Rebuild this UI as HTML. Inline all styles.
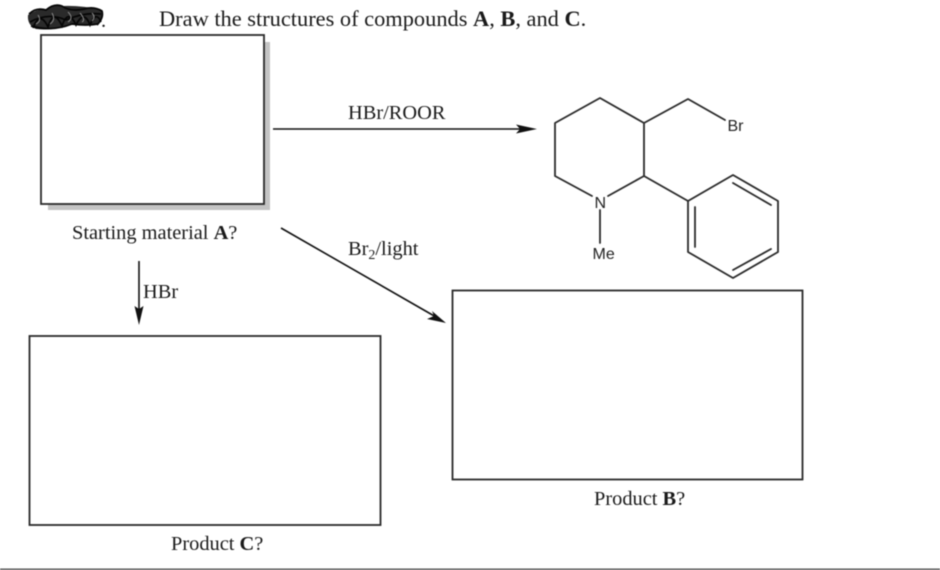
<!DOCTYPE html>
<html>
<head>
<meta charset="utf-8">
<style>
html,body{margin:0;padding:0;background:#fff}
svg{display:block;filter:blur(0.45px)}
.t{font-family:"Liberation Serif",serif;font-size:20.4px;fill:#1a1a1a}
.s{font-family:"Liberation Sans",sans-serif;font-size:16px;fill:#222}
.b{font-weight:bold}
</style>
</head>
<body>
<svg width="940" height="570" viewBox="0 0 940 570" xmlns="http://www.w3.org/2000/svg">
<rect width="940" height="570" fill="#fff"/>

<!-- scribble -->
<path d="M28 15 Q36 9 46 9 Q54 4 62 6 Q80 5 102 10 Q104 16 98 24 Q84 25 70 25 Q54 31 36 29 Q27 25 28 15Z" fill="#2a2a2a"/>
<g fill="none" stroke="#050505" stroke-width="1.700">
<path d="M29 14 Q36 7 46 10 Q54 3 62 6 Q70 12 84 9 Q94 6 102 11 Q104 18 97 25"/>
<path d="M33 28 Q40 10 48 27 Q54 8 62 26 Q68 8 76 25 Q84 9 90 25 Q96 10 101 22"/>
<path d="M30 22 Q48 12 66 20 Q84 12 101 14M31 26 Q52 32 72 24 Q86 26 98 24"/>
</g>
<g fill="none" stroke="#8a8a8a" stroke-width="1">
<path d="M38 15 Q42 21 36 24M52 13 Q56 20 50 24M68 12 Q74 18 68 22M80 13 Q86 20 82 22M92 13 Q96 17 92 21"/>
</g>
<text class="t" x="101" y="27">.</text>

<text class="t" x="159" y="26" style="font-size:22.4px">Draw the structures of compounds <tspan class="b">A</tspan>, <tspan class="b">B</tspan>, and <tspan class="b">C</tspan>.</text>

<!-- box A -->
<rect x="48" y="42" width="222" height="168" fill="#c4c4c4"/>
<rect x="41" y="35" width="223" height="169" fill="#fff" stroke="#2a2a2a" stroke-width="1.800"/>
<text class="t" x="72" y="239">Starting material <tspan class="b">A</tspan>?</text>

<!-- box C -->
<rect x="29.500" y="336" width="351" height="189" fill="#fff" stroke="#2a2a2a" stroke-width="1.800"/>
<text class="t" x="171" y="550">Product <tspan class="b">C</tspan>?</text>

<!-- box B -->
<rect x="452.500" y="290.500" width="350" height="189" fill="#fff" stroke="#2a2a2a" stroke-width="1.800"/>
<text class="t" x="594" y="505">Product <tspan class="b">B</tspan>?</text>

<!-- arrow HBr/ROOR -->
<line x1="273" y1="129" x2="522" y2="129" stroke="#111" stroke-width="1.600"/>
<path d="M537 129 L516 124.500 L520 129 L516 133.500Z" fill="#111"/>
<text class="t" x="348" y="119">HBr/ROOR</text>

<!-- arrow Br2/light -->
<line x1="281" y1="228" x2="436" y2="317" stroke="#111" stroke-width="1.600"/>
<path d="M446 323 L432 311 L434 316 L427 319Z" fill="#111"/>
<text class="t" x="348" y="255">Br<tspan font-size="14" dy="4">2</tspan><tspan dy="-4">/light</tspan></text>

<!-- arrow HBr -->
<line x1="139" y1="261" x2="139" y2="312" stroke="#111" stroke-width="1.600"/>
<path d="M139 325 L134.500 306 L139 309 L143.500 306Z" fill="#111"/>
<text class="t" x="143" y="298">HBr</text>

<!-- molecule -->
<g fill="none" stroke="#2a2a2a" stroke-width="1.800" stroke-linecap="round" stroke-linejoin="round">
<path d="M592 196 L555 176 L555 123 L600 98 L644 123 L644 176 L608 196"/>
<path d="M644 123 L688 99 L725 120"/>
<line x1="644" y1="176" x2="688" y2="201"/>
<line x1="600" y1="210" x2="600" y2="243"/>
<path d="M688 201 L733 175 L778 201 L778 252 L733 278 L688 252Z"/>
<line x1="695" y1="207" x2="695" y2="247"/>
<line x1="733" y1="183" x2="771" y2="205"/>
<line x1="733" y1="270" x2="771" y2="249"/>
</g>
<text class="s" x="594.500" y="208">N</text>
<text class="s" x="592.500" y="259">Me</text>
<text class="s" x="727.500" y="131">Br</text>

<!-- bottom rule -->
<rect x="0" y="568.500" width="940" height="1.500" fill="#555"/>
</svg>
</body>
</html>
